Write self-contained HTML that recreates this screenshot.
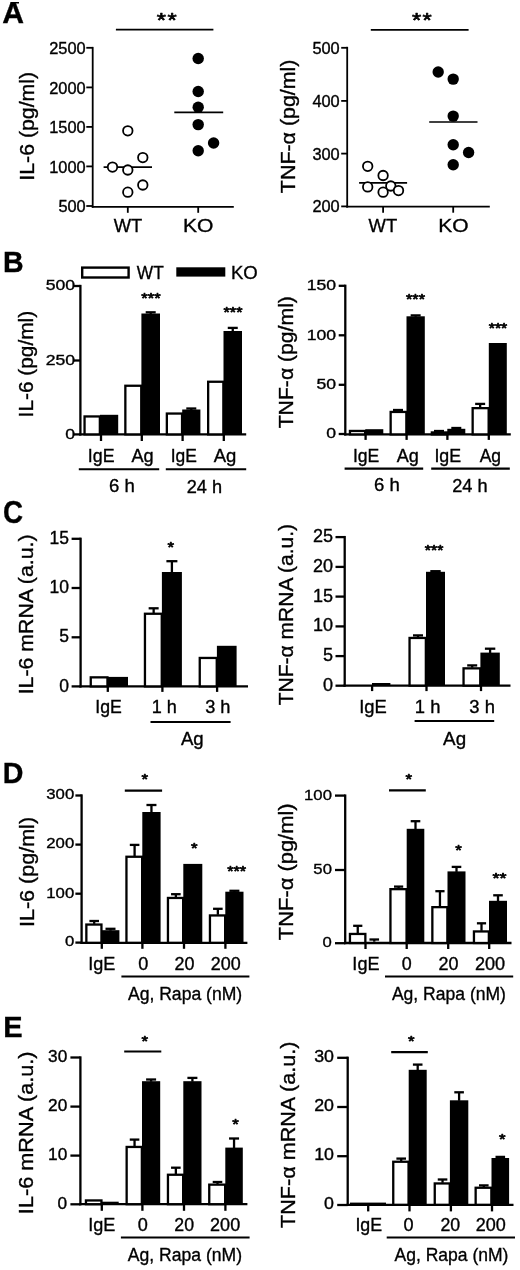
<!DOCTYPE html>
<html lang="en">
<head>
<meta charset="utf-8">
<title>Figure</title>
<style>
html,body{margin:0;padding:0;background:#fff;}
body{width:520px;height:1270px;overflow:hidden;}
svg{display:block;}
svg text{font-family:"Liberation Sans",Arial,Helvetica,sans-serif;fill:#000;stroke:#000;stroke-width:0.35px;}
svg text.st{stroke-width:0.7px;stroke-linejoin:round;}
svg line{stroke:#000;}
</style>
</head>
<body>
<svg width="520" height="1270" viewBox="0 0 520 1270">
<rect x="0" y="0" width="520" height="1270" fill="#fff" stroke="none"/>
<text transform="translate(2.15 22.50) scale(1.0050 1.0000)" font-size="30.00" font-weight="bold">A</text>
<rect x="0" y="0" width="40" height="2" fill="#fff" stroke="none"/>
<rect x="10.4" y="2.0" width="8.6" height="1.5" fill="#000" stroke="none"/>
<text transform="translate(2.95 271.70) scale(0.9508 1.0000)" font-size="30.00" font-weight="bold">B</text>
<text transform="translate(2.89 523.10) scale(0.9110 1.0000)" font-size="30.50" font-weight="bold">C</text>
<text transform="translate(2.74 782.70) scale(0.9539 1.0000)" font-size="30.00" font-weight="bold">D</text>
<text transform="translate(3.31 1036.70) scale(0.9676 1.0000)" font-size="30.00" font-weight="bold">E</text>
<line x1="92.70" y1="46.90" x2="92.70" y2="207.70" stroke-width="1.80"/>
<line x1="91.80" y1="206.80" x2="233.80" y2="206.80" stroke-width="1.80"/>
<line x1="86.30" y1="47.80" x2="92.70" y2="47.80" stroke-width="1.80"/>
<line x1="86.30" y1="87.40" x2="92.70" y2="87.40" stroke-width="1.80"/>
<line x1="86.30" y1="126.90" x2="92.70" y2="126.90" stroke-width="1.80"/>
<line x1="86.30" y1="166.40" x2="92.70" y2="166.40" stroke-width="1.80"/>
<line x1="86.30" y1="206.00" x2="92.70" y2="206.00" stroke-width="1.80"/>
<line x1="127.80" y1="206.80" x2="127.80" y2="212.80" stroke-width="1.80"/>
<line x1="198.20" y1="206.80" x2="198.20" y2="212.80" stroke-width="1.80"/>
<text transform="translate(49.21 53.98) scale(1.0500 1.0000)" font-size="15.60">2500</text>
<text transform="translate(49.21 93.58) scale(1.0500 1.0000)" font-size="15.60">2000</text>
<text transform="translate(49.21 133.08) scale(1.0500 1.0000)" font-size="15.60">1500</text>
<text transform="translate(49.21 172.58) scale(1.0500 1.0000)" font-size="15.60">1000</text>
<text transform="translate(58.38 212.18) scale(1.0500 1.0000)" font-size="15.60">500</text>
<text transform="translate(33.50 180.72) rotate(-90) scale(1.0550 1)" font-size="20.20">IL-6 (pg/ml)</text>
<text transform="translate(113.71 231.50) scale(0.9666 1.0000)" font-size="19.00">WT</text>
<text transform="translate(182.91 231.50) scale(1.1087 1.0000)" font-size="19.00">KO</text>
<line x1="115.90" y1="29.70" x2="213.40" y2="29.70" stroke-width="1.70"/>
<text transform="translate(156.80 27.45) scale(1.1800 1.0000)" font-size="20.00" class="st">*</text>
<text transform="translate(167.50 27.45) scale(1.1800 1.0000)" font-size="20.00" class="st">*</text>
<line x1="103.60" y1="167.10" x2="152.00" y2="167.10" stroke-width="1.70"/>
<circle cx="127.80" cy="130.80" r="4.75" fill="#fff" stroke="#000" stroke-width="1.80"/>
<circle cx="142.80" cy="157.60" r="4.75" fill="#fff" stroke="#000" stroke-width="1.80"/>
<circle cx="112.50" cy="167.10" r="4.75" fill="#fff" stroke="#000" stroke-width="1.80"/>
<circle cx="127.80" cy="170.00" r="4.75" fill="#fff" stroke="#000" stroke-width="1.80"/>
<circle cx="142.80" cy="185.00" r="4.75" fill="#fff" stroke="#000" stroke-width="1.80"/>
<circle cx="127.80" cy="192.20" r="4.75" fill="#fff" stroke="#000" stroke-width="1.80"/>
<line x1="174.30" y1="112.30" x2="223.20" y2="112.30" stroke-width="1.70"/>
<circle cx="198.20" cy="58.50" r="5.70" fill="#000" stroke="none"/>
<circle cx="198.20" cy="91.50" r="5.70" fill="#000" stroke="none"/>
<circle cx="198.20" cy="107.20" r="5.70" fill="#000" stroke="none"/>
<circle cx="198.20" cy="124.60" r="5.70" fill="#000" stroke="none"/>
<circle cx="213.60" cy="143.00" r="5.70" fill="#000" stroke="none"/>
<circle cx="198.20" cy="150.70" r="5.70" fill="#000" stroke="none"/>
<line x1="347.20" y1="46.80" x2="347.20" y2="207.60" stroke-width="1.80"/>
<line x1="346.30" y1="206.70" x2="489.80" y2="206.70" stroke-width="1.80"/>
<line x1="341.20" y1="47.80" x2="347.20" y2="47.80" stroke-width="1.80"/>
<line x1="341.20" y1="100.90" x2="347.20" y2="100.90" stroke-width="1.80"/>
<line x1="341.20" y1="153.60" x2="347.20" y2="153.60" stroke-width="1.80"/>
<line x1="341.20" y1="206.40" x2="347.20" y2="206.40" stroke-width="1.80"/>
<line x1="383.10" y1="206.70" x2="383.10" y2="212.70" stroke-width="1.80"/>
<line x1="453.20" y1="206.70" x2="453.20" y2="212.70" stroke-width="1.80"/>
<text transform="translate(312.38 53.78) scale(1.0500 1.0000)" font-size="15.60">500</text>
<text transform="translate(312.38 106.88) scale(1.0500 1.0000)" font-size="15.60">400</text>
<text transform="translate(312.38 159.58) scale(1.0500 1.0000)" font-size="15.60">300</text>
<text transform="translate(312.38 212.38) scale(1.0500 1.0000)" font-size="15.60">200</text>
<text transform="translate(294.70 193.13) rotate(-90) scale(1.0600 1)" font-size="20.20">TNF-α (pg/ml)</text>
<text transform="translate(368.51 231.50) scale(0.9701 1.0000)" font-size="19.00">WT</text>
<text transform="translate(438.32 231.50) scale(1.1047 1.0000)" font-size="19.00">KO</text>
<line x1="370.80" y1="29.80" x2="468.60" y2="29.80" stroke-width="1.70"/>
<text transform="translate(412.10 27.45) scale(1.1800 1.0000)" font-size="20.00" class="st">*</text>
<text transform="translate(422.50 27.45) scale(1.1800 1.0000)" font-size="20.00" class="st">*</text>
<line x1="359.10" y1="182.90" x2="407.10" y2="182.90" stroke-width="1.70"/>
<circle cx="367.70" cy="166.30" r="4.75" fill="#fff" stroke="#000" stroke-width="1.80"/>
<circle cx="383.10" cy="175.50" r="4.75" fill="#fff" stroke="#000" stroke-width="1.80"/>
<circle cx="367.70" cy="186.90" r="4.75" fill="#fff" stroke="#000" stroke-width="1.80"/>
<circle cx="390.80" cy="186.00" r="4.75" fill="#fff" stroke="#000" stroke-width="1.80"/>
<circle cx="383.10" cy="192.20" r="4.75" fill="#fff" stroke="#000" stroke-width="1.80"/>
<circle cx="398.50" cy="190.60" r="4.75" fill="#fff" stroke="#000" stroke-width="1.80"/>
<line x1="429.20" y1="122.00" x2="477.50" y2="122.00" stroke-width="1.70"/>
<circle cx="438.20" cy="72.00" r="5.70" fill="#000" stroke="none"/>
<circle cx="453.20" cy="79.10" r="5.70" fill="#000" stroke="none"/>
<circle cx="453.20" cy="116.10" r="5.70" fill="#000" stroke="none"/>
<circle cx="453.20" cy="144.80" r="5.70" fill="#000" stroke="none"/>
<circle cx="468.60" cy="152.50" r="5.70" fill="#000" stroke="none"/>
<circle cx="453.20" cy="164.80" r="5.70" fill="#000" stroke="none"/>
<rect x="82.20" y="267.60" width="46.40" height="9.90" fill="#fff" stroke="#000" stroke-width="2.40"/>
<text transform="translate(136.81 278.60) scale(0.9116 1.0000)" font-size="19.00">WT</text>
<rect x="176.30" y="267.30" width="49.00" height="9.30" fill="#000" stroke="none"/>
<text transform="translate(230.92 278.60) scale(0.9766 1.0000)" font-size="19.00">KO</text>
<line x1="80.40" y1="284.85" x2="80.40" y2="435.55" stroke-width="2.30"/>
<line x1="79.25" y1="434.40" x2="246.20" y2="434.40" stroke-width="2.30"/>
<line x1="74.00" y1="286.00" x2="80.40" y2="286.00" stroke-width="2.30"/>
<line x1="74.00" y1="360.50" x2="80.40" y2="360.50" stroke-width="2.30"/>
<line x1="74.00" y1="434.40" x2="80.40" y2="434.40" stroke-width="2.30"/>
<line x1="101.00" y1="434.40" x2="101.00" y2="441.00" stroke-width="2.30"/>
<line x1="141.80" y1="434.40" x2="141.80" y2="441.00" stroke-width="2.30"/>
<line x1="182.60" y1="434.40" x2="182.60" y2="441.00" stroke-width="2.30"/>
<line x1="223.80" y1="434.40" x2="223.80" y2="441.00" stroke-width="2.30"/>
<text transform="translate(45.68 290.41) scale(1.1900 1.0000)" font-size="14.80">500</text>
<text transform="translate(45.68 364.91) scale(1.1900 1.0000)" font-size="14.80">250</text>
<text transform="translate(65.23 438.81) scale(1.1900 1.0000)" font-size="14.80">0</text>
<text transform="translate(33.10 417.38) rotate(-90) scale(1.0423 1)" font-size="20.00">IL-6 (pg/ml)</text>
<rect x="84.55" y="416.45" width="15.30" height="17.95" fill="#fff" stroke="#000" stroke-width="2.30"/>
<rect x="100.00" y="414.80" width="18.20" height="19.60" fill="#000" stroke="none"/>
<rect x="125.35" y="385.75" width="15.90" height="48.65" fill="#fff" stroke="#000" stroke-width="2.30"/>
<rect x="141.40" y="313.50" width="18.60" height="120.90" fill="#000" stroke="none"/>
<line x1="150.70" y1="314.00" x2="150.70" y2="312.30" stroke-width="2.30"/>
<line x1="145.70" y1="312.30" x2="155.70" y2="312.30" stroke-width="2.30"/>
<rect x="166.85" y="413.55" width="15.20" height="20.85" fill="#fff" stroke="#000" stroke-width="2.30"/>
<rect x="182.20" y="409.50" width="18.20" height="24.90" fill="#000" stroke="none"/>
<line x1="191.30" y1="410.00" x2="191.30" y2="408.50" stroke-width="2.30"/>
<line x1="186.30" y1="408.50" x2="196.30" y2="408.50" stroke-width="2.30"/>
<rect x="208.15" y="381.75" width="15.20" height="52.65" fill="#fff" stroke="#000" stroke-width="2.30"/>
<rect x="223.50" y="331.00" width="18.50" height="103.40" fill="#000" stroke="none"/>
<line x1="232.75" y1="331.50" x2="232.75" y2="327.90" stroke-width="2.30"/>
<line x1="227.75" y1="327.90" x2="237.75" y2="327.90" stroke-width="2.30"/>
<text transform="translate(141.32 302.82) scale(1.1572 1.0000)" font-size="14.30" class="st">***</text>
<text transform="translate(223.53 317.42) scale(1.1325 1.0000)" font-size="14.30" class="st">***</text>
<text transform="translate(87.80 462.30) scale(0.9732 1.0000)" font-size="18.30">IgE</text>
<text transform="translate(131.41 462.30) scale(0.9931 1.0000)" font-size="18.30">Ag</text>
<text transform="translate(170.73 462.30) scale(0.9533 1.0000)" font-size="18.30">IgE</text>
<text transform="translate(213.71 462.30) scale(1.0121 1.0000)" font-size="18.30">Ag</text>
<line x1="78.80" y1="469.20" x2="159.20" y2="469.20" stroke-width="2.00"/>
<line x1="165.80" y1="469.20" x2="246.20" y2="469.20" stroke-width="2.00"/>
<text transform="translate(108.97 491.50) scale(1.0158 1.0000)" font-size="18.30">6 h</text>
<text transform="translate(186.69 492.60) scale(0.9944 1.0000)" font-size="18.30">24 h</text>
<line x1="345.30" y1="284.65" x2="345.30" y2="435.55" stroke-width="2.30"/>
<line x1="344.15" y1="434.40" x2="510.80" y2="434.40" stroke-width="2.30"/>
<line x1="338.70" y1="285.80" x2="345.30" y2="285.80" stroke-width="2.30"/>
<line x1="338.70" y1="335.30" x2="345.30" y2="335.30" stroke-width="2.30"/>
<line x1="338.70" y1="384.80" x2="345.30" y2="384.80" stroke-width="2.30"/>
<line x1="338.70" y1="434.00" x2="345.30" y2="434.00" stroke-width="2.30"/>
<line x1="365.60" y1="434.40" x2="365.60" y2="439.90" stroke-width="2.30"/>
<line x1="406.60" y1="434.40" x2="406.60" y2="439.90" stroke-width="2.30"/>
<line x1="447.40" y1="434.40" x2="447.40" y2="439.90" stroke-width="2.30"/>
<line x1="488.80" y1="434.40" x2="488.80" y2="439.90" stroke-width="2.30"/>
<text transform="translate(306.78 290.21) scale(1.1900 1.0000)" font-size="14.80">150</text>
<text transform="translate(306.78 339.71) scale(1.1900 1.0000)" font-size="14.80">100</text>
<text transform="translate(316.56 389.21) scale(1.1900 1.0000)" font-size="14.80">50</text>
<text transform="translate(326.33 438.41) scale(1.1900 1.0000)" font-size="14.80">0</text>
<text transform="translate(293.00 428.32) rotate(-90) scale(1.0436 1)" font-size="20.30">TNF-α (pg/ml)</text>
<rect x="349.95" y="430.95" width="15.20" height="3.45" fill="#fff" stroke="#000" stroke-width="2.30"/>
<rect x="365.30" y="429.20" width="18.00" height="5.20" fill="#000" stroke="none"/>
<rect x="390.65" y="411.95" width="15.70" height="22.45" fill="#fff" stroke="#000" stroke-width="2.30"/>
<rect x="406.50" y="316.30" width="18.30" height="118.10" fill="#000" stroke="none"/>
<line x1="398.00" y1="411.30" x2="398.00" y2="410.00" stroke-width="2.30"/>
<line x1="393.00" y1="410.00" x2="403.00" y2="410.00" stroke-width="2.30"/>
<line x1="415.65" y1="316.80" x2="415.65" y2="315.40" stroke-width="2.30"/>
<line x1="410.65" y1="315.40" x2="420.65" y2="315.40" stroke-width="2.30"/>
<rect x="431.85" y="432.45" width="15.30" height="1.95" fill="#fff" stroke="#000" stroke-width="2.30"/>
<rect x="447.30" y="428.80" width="18.00" height="5.60" fill="#000" stroke="none"/>
<line x1="439.00" y1="431.80" x2="439.00" y2="431.00" stroke-width="2.30"/>
<line x1="434.00" y1="431.00" x2="444.00" y2="431.00" stroke-width="2.30"/>
<line x1="456.30" y1="429.30" x2="456.30" y2="428.00" stroke-width="2.30"/>
<line x1="451.30" y1="428.00" x2="461.30" y2="428.00" stroke-width="2.30"/>
<rect x="472.65" y="408.15" width="16.00" height="26.25" fill="#fff" stroke="#000" stroke-width="2.30"/>
<rect x="488.80" y="343.00" width="18.00" height="91.40" fill="#000" stroke="none"/>
<line x1="480.15" y1="407.50" x2="480.15" y2="403.90" stroke-width="2.30"/>
<line x1="475.15" y1="403.90" x2="485.15" y2="403.90" stroke-width="2.30"/>
<text transform="translate(406.03 303.82) scale(1.1325 1.0000)" font-size="14.30" class="st">***</text>
<text transform="translate(488.73 333.22) scale(1.1077 1.0000)" font-size="14.30" class="st">***</text>
<text transform="translate(352.92 462.20) scale(0.9613 1.0000)" font-size="18.30">IgE</text>
<text transform="translate(396.81 462.20) scale(0.9884 1.0000)" font-size="18.30">Ag</text>
<text transform="translate(434.40 462.20) scale(0.9732 1.0000)" font-size="18.30">IgE</text>
<text transform="translate(479.71 462.20) scale(0.9551 1.0000)" font-size="18.30">Ag</text>
<line x1="344.60" y1="468.60" x2="423.20" y2="468.60" stroke-width="2.10"/>
<line x1="431.20" y1="468.60" x2="509.80" y2="468.60" stroke-width="2.10"/>
<text transform="translate(374.07 490.80) scale(1.0158 1.0000)" font-size="18.30">6 h</text>
<text transform="translate(452.19 491.60) scale(0.9944 1.0000)" font-size="18.30">24 h</text>
<line x1="80.60" y1="537.65" x2="80.60" y2="687.55" stroke-width="2.30"/>
<line x1="79.45" y1="686.40" x2="248.00" y2="686.40" stroke-width="2.30"/>
<line x1="71.60" y1="538.80" x2="80.60" y2="538.80" stroke-width="2.30"/>
<line x1="71.60" y1="588.00" x2="80.60" y2="588.00" stroke-width="2.30"/>
<line x1="71.60" y1="637.30" x2="80.60" y2="637.30" stroke-width="2.30"/>
<line x1="71.60" y1="686.40" x2="80.60" y2="686.40" stroke-width="2.30"/>
<line x1="107.80" y1="686.40" x2="107.80" y2="691.90" stroke-width="2.30"/>
<line x1="162.40" y1="686.40" x2="162.40" y2="691.90" stroke-width="2.30"/>
<line x1="217.10" y1="686.40" x2="217.10" y2="691.90" stroke-width="2.30"/>
<text transform="translate(49.58 543.94) scale(1.0000 1.0000)" font-size="17.50">15</text>
<text transform="translate(49.58 593.14) scale(1.0000 1.0000)" font-size="17.50">10</text>
<text transform="translate(59.29 642.44) scale(1.0000 1.0000)" font-size="17.50">5</text>
<text transform="translate(59.29 691.54) scale(1.0000 1.0000)" font-size="17.50">0</text>
<text transform="translate(32.70 694.32) rotate(-90) scale(1.0509 1)" font-size="20.30">IL-6 mRNA (a.u.)</text>
<rect x="90.75" y="677.35" width="16.70" height="9.05" fill="#fff" stroke="#000" stroke-width="2.30"/>
<rect x="107.60" y="676.90" width="20.40" height="9.50" fill="#000" stroke="none"/>
<rect x="144.95" y="613.75" width="16.80" height="72.65" fill="#fff" stroke="#000" stroke-width="2.30"/>
<rect x="161.90" y="572.00" width="20.00" height="114.40" fill="#000" stroke="none"/>
<line x1="153.65" y1="613.10" x2="153.65" y2="608.30" stroke-width="2.30"/>
<line x1="148.65" y1="608.30" x2="158.65" y2="608.30" stroke-width="2.30"/>
<line x1="171.90" y1="572.50" x2="171.90" y2="561.20" stroke-width="2.30"/>
<line x1="166.40" y1="561.20" x2="177.40" y2="561.20" stroke-width="2.30"/>
<rect x="199.75" y="657.95" width="17.00" height="28.45" fill="#fff" stroke="#000" stroke-width="2.30"/>
<rect x="216.90" y="645.80" width="19.70" height="40.60" fill="#000" stroke="none"/>
<text transform="translate(167.51 552.12) scale(1.1800 1.0000)" font-size="14.30" class="st">*</text>
<text transform="translate(95.31 713.30) scale(0.9924 1.0000)" font-size="17.80">IgE</text>
<text transform="translate(151.64 713.30) scale(1.0157 1.0000)" font-size="17.80">1 h</text>
<text transform="translate(205.17 713.30) scale(1.0230 1.0000)" font-size="17.80">3 h</text>
<line x1="150.50" y1="722.00" x2="230.60" y2="722.00" stroke-width="2.00"/>
<text transform="translate(180.91 745.00) scale(1.0454 1.0000)" font-size="17.80">Ag</text>
<line x1="344.70" y1="535.95" x2="344.70" y2="686.75" stroke-width="2.30"/>
<line x1="343.55" y1="685.60" x2="510.50" y2="685.60" stroke-width="2.30"/>
<line x1="335.50" y1="537.10" x2="344.70" y2="537.10" stroke-width="2.30"/>
<line x1="335.50" y1="566.90" x2="344.70" y2="566.90" stroke-width="2.30"/>
<line x1="335.50" y1="596.60" x2="344.70" y2="596.60" stroke-width="2.30"/>
<line x1="335.50" y1="626.40" x2="344.70" y2="626.40" stroke-width="2.30"/>
<line x1="335.50" y1="656.10" x2="344.70" y2="656.10" stroke-width="2.30"/>
<line x1="335.50" y1="685.70" x2="344.70" y2="685.70" stroke-width="2.30"/>
<line x1="372.10" y1="685.60" x2="372.10" y2="691.10" stroke-width="2.30"/>
<line x1="426.50" y1="685.60" x2="426.50" y2="691.10" stroke-width="2.30"/>
<line x1="481.00" y1="685.60" x2="481.00" y2="691.10" stroke-width="2.30"/>
<text transform="translate(312.98 542.11) scale(1.0200 1.0000)" font-size="17.70">25</text>
<text transform="translate(312.98 571.91) scale(1.0200 1.0000)" font-size="17.70">20</text>
<text transform="translate(312.98 601.61) scale(1.0200 1.0000)" font-size="17.70">15</text>
<text transform="translate(312.98 631.41) scale(1.0200 1.0000)" font-size="17.70">10</text>
<text transform="translate(323.00 661.11) scale(1.0200 1.0000)" font-size="17.70">5</text>
<text transform="translate(323.00 690.71) scale(1.0200 1.0000)" font-size="17.70">0</text>
<text transform="translate(293.30 705.22) rotate(-90) scale(1.0247 1)" font-size="20.50">TNF-α mRNA (a.u.)</text>
<rect x="372.00" y="683.00" width="18.40" height="2.60" fill="#000" stroke="none"/>
<rect x="409.55" y="637.95" width="16.30" height="47.65" fill="#fff" stroke="#000" stroke-width="2.30"/>
<rect x="426.00" y="571.80" width="19.00" height="113.80" fill="#000" stroke="none"/>
<line x1="418.00" y1="637.30" x2="418.00" y2="635.40" stroke-width="2.30"/>
<line x1="413.00" y1="635.40" x2="423.00" y2="635.40" stroke-width="2.30"/>
<line x1="435.50" y1="572.30" x2="435.50" y2="571.20" stroke-width="2.30"/>
<line x1="430.30" y1="571.20" x2="440.70" y2="571.20" stroke-width="2.30"/>
<rect x="463.55" y="668.35" width="16.70" height="17.25" fill="#fff" stroke="#000" stroke-width="2.30"/>
<rect x="480.40" y="652.60" width="19.40" height="33.00" fill="#000" stroke="none"/>
<line x1="472.20" y1="667.70" x2="472.20" y2="665.40" stroke-width="2.30"/>
<line x1="467.20" y1="665.40" x2="477.20" y2="665.40" stroke-width="2.30"/>
<line x1="490.10" y1="653.10" x2="490.10" y2="648.70" stroke-width="2.30"/>
<line x1="484.90" y1="648.70" x2="495.30" y2="648.70" stroke-width="2.30"/>
<text transform="translate(424.83 555.02) scale(1.1077 1.0000)" font-size="14.30" class="st">***</text>
<text transform="translate(359.14 713.00) scale(1.0334 1.0000)" font-size="17.80">IgE</text>
<text transform="translate(414.82 713.00) scale(1.0337 1.0000)" font-size="17.80">1 h</text>
<text transform="translate(469.26 713.00) scale(1.0362 1.0000)" font-size="17.80">3 h</text>
<line x1="414.60" y1="720.90" x2="494.20" y2="720.90" stroke-width="2.00"/>
<text transform="translate(443.11 744.60) scale(1.0552 1.0000)" font-size="17.80">Ag</text>
<line x1="81.60" y1="794.35" x2="81.60" y2="943.95" stroke-width="2.30"/>
<line x1="80.45" y1="942.80" x2="247.40" y2="942.80" stroke-width="2.30"/>
<line x1="75.40" y1="795.50" x2="81.60" y2="795.50" stroke-width="2.30"/>
<line x1="75.40" y1="844.60" x2="81.60" y2="844.60" stroke-width="2.30"/>
<line x1="75.40" y1="893.70" x2="81.60" y2="893.70" stroke-width="2.30"/>
<line x1="75.40" y1="942.60" x2="81.60" y2="942.60" stroke-width="2.30"/>
<line x1="101.80" y1="942.80" x2="101.80" y2="948.80" stroke-width="2.30"/>
<line x1="142.40" y1="942.80" x2="142.40" y2="948.80" stroke-width="2.30"/>
<line x1="184.00" y1="942.80" x2="184.00" y2="948.80" stroke-width="2.30"/>
<line x1="225.40" y1="942.80" x2="225.40" y2="948.80" stroke-width="2.30"/>
<text transform="translate(46.31 799.33) scale(1.1700 1.0000)" font-size="14.30">300</text>
<text transform="translate(46.31 848.43) scale(1.1700 1.0000)" font-size="14.30">200</text>
<text transform="translate(46.31 897.53) scale(1.1700 1.0000)" font-size="14.30">100</text>
<text transform="translate(64.88 946.43) scale(1.1700 1.0000)" font-size="14.30">0</text>
<text transform="translate(34.30 927.04) rotate(-90) scale(1.0513 1)" font-size="20.50">IL-6 (pg/ml)</text>
<rect x="86.35" y="924.55" width="15.10" height="18.25" fill="#fff" stroke="#000" stroke-width="2.30"/>
<rect x="101.60" y="930.20" width="17.80" height="12.60" fill="#000" stroke="none"/>
<line x1="94.20" y1="923.90" x2="94.20" y2="921.00" stroke-width="2.30"/>
<line x1="89.40" y1="921.00" x2="99.00" y2="921.00" stroke-width="2.30"/>
<line x1="110.50" y1="930.70" x2="110.50" y2="928.80" stroke-width="2.30"/>
<line x1="105.50" y1="928.80" x2="115.50" y2="928.80" stroke-width="2.30"/>
<rect x="126.45" y="856.75" width="15.70" height="86.05" fill="#fff" stroke="#000" stroke-width="2.30"/>
<rect x="142.30" y="812.00" width="18.30" height="130.80" fill="#000" stroke="none"/>
<line x1="134.60" y1="856.10" x2="134.60" y2="844.90" stroke-width="2.30"/>
<line x1="129.80" y1="844.90" x2="139.40" y2="844.90" stroke-width="2.30"/>
<line x1="151.45" y1="812.50" x2="151.45" y2="805.00" stroke-width="2.30"/>
<line x1="146.45" y1="805.00" x2="156.45" y2="805.00" stroke-width="2.30"/>
<rect x="167.95" y="897.95" width="15.20" height="44.85" fill="#fff" stroke="#000" stroke-width="2.30"/>
<rect x="183.30" y="863.90" width="19.00" height="78.90" fill="#000" stroke="none"/>
<line x1="175.85" y1="897.30" x2="175.85" y2="894.20" stroke-width="2.30"/>
<line x1="171.05" y1="894.20" x2="180.65" y2="894.20" stroke-width="2.30"/>
<rect x="209.95" y="915.45" width="15.20" height="27.35" fill="#fff" stroke="#000" stroke-width="2.30"/>
<rect x="225.30" y="891.70" width="18.20" height="51.10" fill="#000" stroke="none"/>
<line x1="217.85" y1="914.80" x2="217.85" y2="908.80" stroke-width="2.30"/>
<line x1="213.05" y1="908.80" x2="222.65" y2="908.80" stroke-width="2.30"/>
<line x1="234.40" y1="892.20" x2="234.40" y2="890.80" stroke-width="2.30"/>
<line x1="229.40" y1="890.80" x2="239.40" y2="890.80" stroke-width="2.30"/>
<line x1="124.80" y1="790.60" x2="162.10" y2="790.60" stroke-width="2.20"/>
<text transform="translate(141.61 784.12) scale(1.1800 1.0000)" font-size="14.30" class="st">*</text>
<text transform="translate(190.91 852.72) scale(1.1800 1.0000)" font-size="14.30" class="st">*</text>
<text transform="translate(227.13 875.52) scale(1.1325 1.0000)" font-size="14.30" class="st">***</text>
<text transform="translate(88.17 969.70) scale(0.9892 1.0000)" font-size="18.30">IgE</text>
<text transform="translate(138.28 969.70) scale(0.9894 1.0000)" font-size="18.30">0</text>
<text transform="translate(174.50 969.70) scale(0.9804 1.0000)" font-size="18.30">20</text>
<text transform="translate(210.70 969.70) scale(0.9819 1.0000)" font-size="18.30">200</text>
<line x1="121.40" y1="976.50" x2="249.40" y2="976.50" stroke-width="2.10"/>
<text transform="translate(127.91 1000.20) scale(0.9357 1.0000)" font-size="18.80">Ag, Rapa (nM)</text>
<line x1="345.20" y1="794.45" x2="345.20" y2="944.15" stroke-width="2.30"/>
<line x1="344.05" y1="943.00" x2="511.50" y2="943.00" stroke-width="2.30"/>
<line x1="335.00" y1="795.60" x2="345.20" y2="795.60" stroke-width="2.30"/>
<line x1="335.00" y1="870.00" x2="345.20" y2="870.00" stroke-width="2.30"/>
<line x1="335.00" y1="943.20" x2="345.20" y2="943.20" stroke-width="2.30"/>
<line x1="365.50" y1="943.00" x2="365.50" y2="949.00" stroke-width="2.30"/>
<line x1="406.70" y1="943.00" x2="406.70" y2="949.00" stroke-width="2.30"/>
<line x1="448.20" y1="943.00" x2="448.20" y2="949.00" stroke-width="2.30"/>
<line x1="489.20" y1="943.00" x2="489.20" y2="949.00" stroke-width="2.30"/>
<text transform="translate(304.10 799.88) scale(1.0900 1.0000)" font-size="15.30">100</text>
<text transform="translate(313.36 874.28) scale(1.0900 1.0000)" font-size="15.30">50</text>
<text transform="translate(322.61 947.48) scale(1.0900 1.0000)" font-size="15.30">0</text>
<text transform="translate(292.70 940.14) rotate(-90) scale(1.0683 1)" font-size="20.50">TNF-α (pg/ml)</text>
<rect x="349.95" y="933.95" width="15.40" height="9.05" fill="#fff" stroke="#000" stroke-width="2.30"/>
<line x1="357.75" y1="933.30" x2="357.75" y2="925.80" stroke-width="2.30"/>
<line x1="353.15" y1="925.80" x2="362.35" y2="925.80" stroke-width="2.30"/>
<line x1="374.25" y1="941.70" x2="374.25" y2="939.50" stroke-width="2.30"/>
<line x1="369.45" y1="939.50" x2="379.05" y2="939.50" stroke-width="2.30"/>
<rect x="390.45" y="889.15" width="16.10" height="53.85" fill="#fff" stroke="#000" stroke-width="2.30"/>
<rect x="406.70" y="828.80" width="17.60" height="114.20" fill="#000" stroke="none"/>
<line x1="398.60" y1="888.50" x2="398.60" y2="886.60" stroke-width="2.30"/>
<line x1="394.00" y1="886.60" x2="403.20" y2="886.60" stroke-width="2.30"/>
<line x1="415.50" y1="829.30" x2="415.50" y2="821.20" stroke-width="2.30"/>
<line x1="410.70" y1="821.20" x2="420.30" y2="821.20" stroke-width="2.30"/>
<rect x="432.35" y="907.15" width="15.00" height="35.85" fill="#fff" stroke="#000" stroke-width="2.30"/>
<rect x="447.50" y="871.40" width="18.00" height="71.60" fill="#000" stroke="none"/>
<line x1="439.95" y1="906.50" x2="439.95" y2="891.20" stroke-width="2.30"/>
<line x1="435.35" y1="891.20" x2="444.55" y2="891.20" stroke-width="2.30"/>
<line x1="456.50" y1="871.90" x2="456.50" y2="866.90" stroke-width="2.30"/>
<line x1="451.70" y1="866.90" x2="461.30" y2="866.90" stroke-width="2.30"/>
<rect x="473.95" y="931.45" width="14.90" height="11.55" fill="#fff" stroke="#000" stroke-width="2.30"/>
<rect x="489.00" y="900.80" width="18.00" height="42.20" fill="#000" stroke="none"/>
<line x1="481.50" y1="930.80" x2="481.50" y2="923.30" stroke-width="2.30"/>
<line x1="476.90" y1="923.30" x2="486.10" y2="923.30" stroke-width="2.30"/>
<line x1="498.00" y1="901.30" x2="498.00" y2="895.30" stroke-width="2.30"/>
<line x1="493.20" y1="895.30" x2="502.80" y2="895.30" stroke-width="2.30"/>
<line x1="389.00" y1="790.30" x2="425.80" y2="790.30" stroke-width="2.20"/>
<text transform="translate(405.41 784.22) scale(1.1800 1.0000)" font-size="14.30" class="st">*</text>
<text transform="translate(455.31 855.02) scale(1.1800 1.0000)" font-size="14.30" class="st">*</text>
<text transform="translate(492.59 882.62) scale(1.2569 1.0000)" font-size="14.30" class="st">**</text>
<text transform="translate(352.37 969.70) scale(0.9892 1.0000)" font-size="18.30">IgE</text>
<text transform="translate(401.78 969.70) scale(0.9779 1.0000)" font-size="18.30">0</text>
<text transform="translate(438.50 969.70) scale(0.9804 1.0000)" font-size="18.30">20</text>
<text transform="translate(474.89 969.70) scale(0.9923 1.0000)" font-size="18.30">200</text>
<line x1="385.00" y1="976.50" x2="513.20" y2="976.50" stroke-width="2.10"/>
<text transform="translate(391.91 1000.20) scale(0.9332 1.0000)" font-size="18.80">Ag, Rapa (nM)</text>
<line x1="80.40" y1="1056.35" x2="80.40" y2="1205.35" stroke-width="2.30"/>
<line x1="79.25" y1="1204.20" x2="247.40" y2="1204.20" stroke-width="2.30"/>
<line x1="70.40" y1="1057.50" x2="80.40" y2="1057.50" stroke-width="2.30"/>
<line x1="70.40" y1="1106.60" x2="80.40" y2="1106.60" stroke-width="2.30"/>
<line x1="70.40" y1="1155.60" x2="80.40" y2="1155.60" stroke-width="2.30"/>
<line x1="70.40" y1="1204.30" x2="80.40" y2="1204.30" stroke-width="2.30"/>
<line x1="101.80" y1="1204.20" x2="101.80" y2="1210.80" stroke-width="2.30"/>
<line x1="142.40" y1="1204.20" x2="142.40" y2="1210.80" stroke-width="2.30"/>
<line x1="184.00" y1="1204.20" x2="184.00" y2="1210.80" stroke-width="2.30"/>
<line x1="225.40" y1="1204.20" x2="225.40" y2="1210.80" stroke-width="2.30"/>
<text transform="translate(48.04 1061.74) scale(1.0850 1.0000)" font-size="15.90">30</text>
<text transform="translate(48.04 1110.84) scale(1.0850 1.0000)" font-size="15.90">20</text>
<text transform="translate(48.04 1159.84) scale(1.0850 1.0000)" font-size="15.90">10</text>
<text transform="translate(57.62 1208.54) scale(1.0850 1.0000)" font-size="15.90">0</text>
<text transform="translate(33.20 1214.15) rotate(-90) scale(1.0690 1)" font-size="20.30">IL-6 mRNA (a.u.)</text>
<rect x="85.95" y="1200.45" width="15.50" height="3.75" fill="#fff" stroke="#000" stroke-width="2.30"/>
<rect x="101.60" y="1201.70" width="17.10" height="2.50" fill="#000" stroke="none"/>
<rect x="126.65" y="1146.95" width="15.20" height="57.25" fill="#fff" stroke="#000" stroke-width="2.30"/>
<rect x="142.00" y="1081.20" width="18.20" height="123.00" fill="#000" stroke="none"/>
<line x1="134.55" y1="1146.30" x2="134.55" y2="1139.60" stroke-width="2.30"/>
<line x1="129.75" y1="1139.60" x2="139.35" y2="1139.60" stroke-width="2.30"/>
<line x1="151.10" y1="1081.70" x2="151.10" y2="1079.50" stroke-width="2.30"/>
<line x1="146.10" y1="1079.50" x2="156.10" y2="1079.50" stroke-width="2.30"/>
<rect x="167.95" y="1174.75" width="15.20" height="29.45" fill="#fff" stroke="#000" stroke-width="2.30"/>
<rect x="183.30" y="1081.20" width="18.20" height="123.00" fill="#000" stroke="none"/>
<line x1="175.85" y1="1174.10" x2="175.85" y2="1167.70" stroke-width="2.30"/>
<line x1="171.05" y1="1167.70" x2="180.65" y2="1167.70" stroke-width="2.30"/>
<line x1="192.40" y1="1081.70" x2="192.40" y2="1077.90" stroke-width="2.30"/>
<line x1="187.40" y1="1077.90" x2="197.40" y2="1077.90" stroke-width="2.30"/>
<rect x="209.25" y="1184.65" width="15.90" height="19.55" fill="#fff" stroke="#000" stroke-width="2.30"/>
<rect x="225.30" y="1147.60" width="17.50" height="56.60" fill="#000" stroke="none"/>
<line x1="217.50" y1="1184.00" x2="217.50" y2="1182.00" stroke-width="2.30"/>
<line x1="212.70" y1="1182.00" x2="222.30" y2="1182.00" stroke-width="2.30"/>
<line x1="234.05" y1="1148.10" x2="234.05" y2="1138.50" stroke-width="2.30"/>
<line x1="229.05" y1="1138.50" x2="239.05" y2="1138.50" stroke-width="2.30"/>
<line x1="124.20" y1="1051.50" x2="161.30" y2="1051.50" stroke-width="2.20"/>
<text transform="translate(141.61 1046.12) scale(1.1800 1.0000)" font-size="14.30" class="st">*</text>
<text transform="translate(232.21 1129.42) scale(1.1800 1.0000)" font-size="14.30" class="st">*</text>
<text transform="translate(88.17 1230.90) scale(0.9892 1.0000)" font-size="18.30">IgE</text>
<text transform="translate(137.68 1230.90) scale(0.9894 1.0000)" font-size="18.30">0</text>
<text transform="translate(174.31 1230.90) scale(0.9697 1.0000)" font-size="18.30">20</text>
<text transform="translate(210.10 1230.90) scale(0.9853 1.0000)" font-size="18.30">200</text>
<line x1="120.90" y1="1237.40" x2="249.60" y2="1237.40" stroke-width="2.00"/>
<text transform="translate(127.81 1261.10) scale(0.9349 1.0000)" font-size="18.80">Ag, Rapa (nM)</text>
<line x1="347.70" y1="1056.65" x2="347.70" y2="1205.95" stroke-width="2.30"/>
<line x1="346.55" y1="1204.80" x2="513.50" y2="1204.80" stroke-width="2.30"/>
<line x1="337.20" y1="1057.80" x2="347.70" y2="1057.80" stroke-width="2.30"/>
<line x1="337.20" y1="1107.00" x2="347.70" y2="1107.00" stroke-width="2.30"/>
<line x1="337.20" y1="1156.20" x2="347.70" y2="1156.20" stroke-width="2.30"/>
<line x1="337.20" y1="1205.00" x2="347.70" y2="1205.00" stroke-width="2.30"/>
<line x1="368.20" y1="1204.80" x2="368.20" y2="1211.40" stroke-width="2.30"/>
<line x1="409.50" y1="1204.80" x2="409.50" y2="1211.40" stroke-width="2.30"/>
<line x1="450.90" y1="1204.80" x2="450.90" y2="1211.40" stroke-width="2.30"/>
<line x1="492.00" y1="1204.80" x2="492.00" y2="1211.40" stroke-width="2.30"/>
<text transform="translate(314.15 1061.99) scale(1.1200 1.0000)" font-size="15.90">30</text>
<text transform="translate(314.15 1111.19) scale(1.1200 1.0000)" font-size="15.90">20</text>
<text transform="translate(314.15 1160.39) scale(1.1200 1.0000)" font-size="15.90">10</text>
<text transform="translate(324.03 1209.19) scale(1.1200 1.0000)" font-size="15.90">0</text>
<text transform="translate(294.80 1227.93) rotate(-90) scale(1.0532 1)" font-size="20.50">TNF-α mRNA (a.u.)</text>
<rect x="350" y="1202.6" width="36" height="1.6" fill="#000" stroke="none"/>
<rect x="393.25" y="1161.75" width="15.30" height="43.05" fill="#fff" stroke="#000" stroke-width="2.30"/>
<rect x="408.70" y="1069.80" width="18.00" height="135.00" fill="#000" stroke="none"/>
<line x1="401.20" y1="1161.10" x2="401.20" y2="1158.60" stroke-width="2.30"/>
<line x1="396.40" y1="1158.60" x2="406.00" y2="1158.60" stroke-width="2.30"/>
<line x1="417.70" y1="1070.30" x2="417.70" y2="1064.60" stroke-width="2.30"/>
<line x1="412.90" y1="1064.60" x2="422.50" y2="1064.60" stroke-width="2.30"/>
<rect x="434.75" y="1183.45" width="15.00" height="21.35" fill="#fff" stroke="#000" stroke-width="2.30"/>
<rect x="449.90" y="1100.30" width="18.40" height="104.50" fill="#000" stroke="none"/>
<line x1="442.55" y1="1182.80" x2="442.55" y2="1179.50" stroke-width="2.30"/>
<line x1="437.75" y1="1179.50" x2="447.35" y2="1179.50" stroke-width="2.30"/>
<line x1="459.10" y1="1100.80" x2="459.10" y2="1092.30" stroke-width="2.30"/>
<line x1="454.30" y1="1092.30" x2="463.90" y2="1092.30" stroke-width="2.30"/>
<rect x="475.65" y="1187.75" width="15.70" height="17.05" fill="#fff" stroke="#000" stroke-width="2.30"/>
<rect x="491.50" y="1158.00" width="17.60" height="46.80" fill="#000" stroke="none"/>
<line x1="483.80" y1="1187.10" x2="483.80" y2="1185.40" stroke-width="2.30"/>
<line x1="479.00" y1="1185.40" x2="488.60" y2="1185.40" stroke-width="2.30"/>
<line x1="500.30" y1="1158.50" x2="500.30" y2="1156.90" stroke-width="2.30"/>
<line x1="495.50" y1="1156.90" x2="505.10" y2="1156.90" stroke-width="2.30"/>
<line x1="391.20" y1="1052.20" x2="427.80" y2="1052.20" stroke-width="2.30"/>
<text transform="translate(407.91 1045.62) scale(1.1800 1.0000)" font-size="14.30" class="st">*</text>
<text transform="translate(498.91 1143.62) scale(1.1800 1.0000)" font-size="14.30" class="st">*</text>
<text transform="translate(355.40 1230.90) scale(0.9732 1.0000)" font-size="18.30">IgE</text>
<text transform="translate(403.48 1230.90) scale(0.9894 1.0000)" font-size="18.30">0</text>
<text transform="translate(440.51 1230.90) scale(0.9697 1.0000)" font-size="18.30">20</text>
<text transform="translate(475.80 1230.90) scale(0.9853 1.0000)" font-size="18.30">200</text>
<line x1="386.70" y1="1237.40" x2="515.00" y2="1237.40" stroke-width="2.00"/>
<text transform="translate(394.61 1261.10) scale(0.9307 1.0000)" font-size="18.80">Ag, Rapa (nM)</text>
</svg>
</body>
</html>
